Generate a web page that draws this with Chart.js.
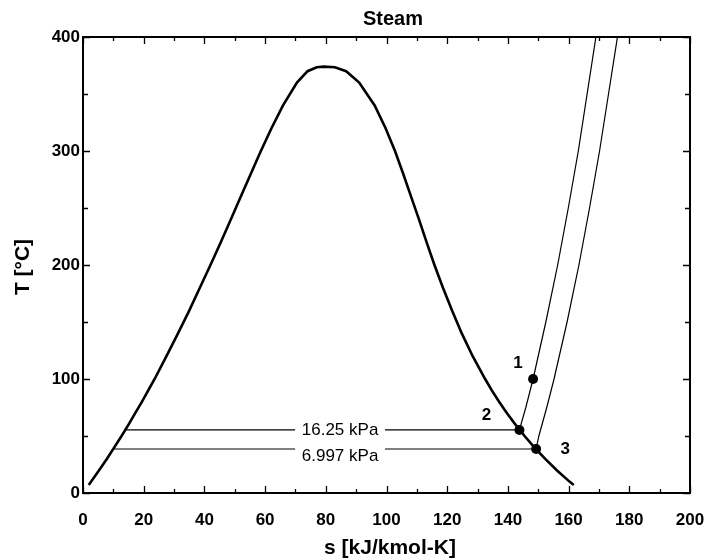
<!DOCTYPE html>
<html>
<head>
<meta charset="utf-8">
<script src="https://cdn.jsdelivr.net/npm/chart.js@4/dist/chart.umd.min.js"></script>
<style>
  body { margin: 0; background: #fff; }
  #wrap { width: 717px; height: 560px; }
</style>
</head>
<body>
<div id="wrap"><canvas id="tsChart" width="717" height="560"></canvas></div>
<script>
// saturation dome, s in kJ/kmol-K, T in C
const domeS = [1.9, 2.7, 5.3, 7.9, 10.3, 12.7, 15.0, 17.2, 19.4, 21.5, 23.6, 27.5, 31.3, 35.0, 38.5, 42.0, 45.4, 48.7, 52.0, 55.3, 58.6, 62.1, 65.9, 70.5, 74.0, 77.0, 79.4, 83.0, 86.7, 91.0, 96.1, 99.7, 102.8, 105.5, 108.1, 110.7, 113.2, 115.8, 118.6, 121.6, 124.8, 128.4, 132.5, 134.7, 137.1, 139.7, 142.5, 145.5, 148.7, 152.3, 156.1, 160.3, 161.7];
const domeT = [7, 10, 20, 30, 40, 50, 60, 70, 80, 90, 100, 120, 140, 160, 180, 200, 220, 240, 260, 280, 300, 320, 340, 360, 370, 373.5, 374, 373.5, 370, 360, 340, 320, 300, 280, 260, 240, 220, 200, 180, 160, 140, 120, 100, 90, 80, 70, 60, 50, 40, 30, 20, 10, 7];

// isobars (null = gap for the pressure label)
const p1625S = [14.0, 69.9, null, 99.5, 143.8, 145.9, 148.3, 152.5, 156.4, 159.9, 163.2, 169.0];
const p1625T = [55.3, 55.3, null, 55.3, 55.3, 75, 100, 150, 200, 250, 300, 400];
const p6997S = [10.1, 69.9, null, 99.5, 149.3, 150.2, 152.8, 155.2, 159.5, 163.4, 166.9, 170.2, 176.1];
const p6997T = [38.6, 38.6, null, 38.6, 38.6, 50, 75, 100, 150, 200, 250, 300, 400];
const isobarLabels = ['16.25 kPa', '6.997 kPa'];
const isobarLabelS = [84.7, 84.7];
const isobarLabelT = [55.3, 38.6];

// state points
const stateNames = ['1', '2', '3'];
const stateS = [148.3, 143.8, 149.3];
const stateT = [100, 55.3, 38.6];

const xMajor = [0, 20, 40, 60, 80, 100, 120, 140, 160, 180, 200];
const xMinor = [10, 30, 50, 70, 90, 110, 130, 150, 170, 190];
const yMajor = [0, 100, 200, 300, 400];
const yMinor = [50, 150, 250, 350];

function pts(xs, ys) {
  return xs.map((x, i) => (x === null ? { x: null, y: null } : { x: x, y: ys[i] }));
}

const FONT = '"Liberation Sans", Arial, sans-serif';

const decor = {
  id: 'decor',
  afterDatasetsDraw(chart) {
    const ctx = chart.ctx;
    const a = chart.chartArea;
    const xs = chart.scales.x, ys = chart.scales.y;
    ctx.save();
    ctx.strokeStyle = '#000';
    ctx.fillStyle = '#000';

    // frame
    ctx.lineWidth = 2;
    ctx.strokeRect(a.left, a.top, a.right - a.left, a.bottom - a.top);

    // inward ticks on all four sides
    ctx.lineWidth = 1.3;
    ctx.beginPath();
    const xt = (v, len) => {
      const p = Math.round(xs.getPixelForValue(v)) + 0.5;
      ctx.moveTo(p, a.bottom); ctx.lineTo(p, a.bottom - len);
      ctx.moveTo(p, a.top); ctx.lineTo(p, a.top + len);
    };
    const yt = (v, len) => {
      const p = Math.round(ys.getPixelForValue(v)) + 0.5;
      ctx.moveTo(a.left, p); ctx.lineTo(a.left + len, p);
      ctx.moveTo(a.right, p); ctx.lineTo(a.right - len, p);
    };
    xMajor.forEach(v => xt(v, 7));
    xMinor.forEach(v => xt(v, 4));
    yMajor.forEach(v => yt(v, 7));
    yMinor.forEach(v => yt(v, 5));
    ctx.stroke();

    // tick labels
    ctx.font = 'bold 17px ' + FONT;
    ctx.textAlign = 'center';
    ctx.textBaseline = 'middle';
    xMajor.forEach(v => ctx.fillText(String(v), xs.getPixelForValue(v), a.bottom + 27));
    ctx.textAlign = 'right';
    yMajor.forEach(v => ctx.fillText(String(v), a.left - 3, ys.getPixelForValue(v)));

    // titles
    ctx.textAlign = 'center';
    ctx.font = 'bold 20px ' + FONT;
    ctx.fillText('Steam', 393, 19);
    ctx.font = 'bold 21px ' + FONT;
    ctx.fillText('s [kJ/kmol-K]', 390, 548);
    ctx.save();
    ctx.translate(23, 267);
    ctx.rotate(-Math.PI / 2);
    ctx.fillText('T [°C]', 0, 0);
    ctx.restore();

    // isobar labels
    ctx.font = '17px ' + FONT;
    ctx.fillText(isobarLabels[0], xs.getPixelForValue(isobarLabelS[0]), ys.getPixelForValue(isobarLabelT[0]));
    ctx.fillText(isobarLabels[1], xs.getPixelForValue(isobarLabelS[1]), ys.getPixelForValue(isobarLabelT[1]) + 7);

    // state labels
    ctx.font = 'bold 17px ' + FONT;
    const off = [[-15, -16], [-33, -15], [29, 0]];
    stateNames.forEach((n, i) => {
      ctx.fillText(n, xs.getPixelForValue(stateS[i]) + off[i][0], ys.getPixelForValue(stateT[i]) + off[i][1]);
    });
    ctx.restore();
  }
};

new Chart(document.getElementById('tsChart'), {
  type: 'scatter',
  data: {
    datasets: [
      {
        data: pts(domeS, domeT),
        showLine: true,
        borderColor: '#000',
        borderWidth: 2.6,
        pointRadius: 0,
        tension: 0
      },
      {
        data: pts(p1625S, p1625T),
        showLine: true,
        spanGaps: false,
        borderColor: '#000',
        borderWidth: 1.2,
        pointRadius: 0
      },
      {
        data: pts(p6997S, p6997T),
        showLine: true,
        spanGaps: false,
        borderColor: '#000',
        borderWidth: 1.2,
        pointRadius: 0
      },
      {
        data: pts(stateS, stateT),
        showLine: false,
        pointRadius: 5,
        pointBackgroundColor: '#000',
        pointBorderColor: '#000',
        pointBorderWidth: 0
      }
    ]
  },
  options: {
    responsive: false,
    animation: false,
    layout: { padding: { left: 83, top: 37, right: 27, bottom: 67 } },
    plugins: {
      legend: { display: false },
      tooltip: { enabled: false },
      title: { display: false }
    },
    scales: {
      x: { type: 'linear', min: 0, max: 200, display: false },
      y: { type: 'linear', min: 0, max: 400, display: false }
    }
  },
  plugins: [decor]
});
</script>
</body>
</html>
